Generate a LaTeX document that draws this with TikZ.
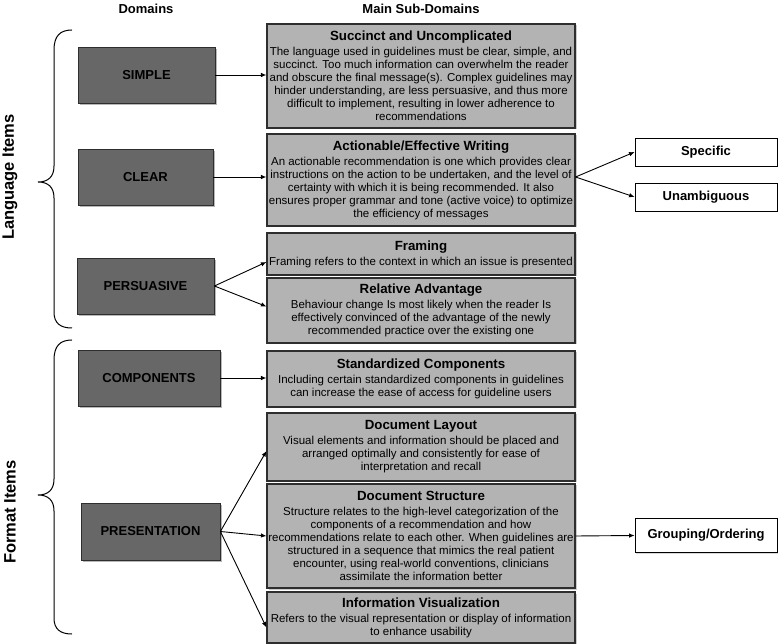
\documentclass[tikz,border=0pt]{standalone}
\usepackage{fontspec}
\setmainfont{Liberation Sans}
\usetikzlibrary{arrows.meta,shadows,calc}
\definecolor{darkfill}{HTML}{676767}
\definecolor{lightfill}{HTML}{B3B3B3}
\definecolor{edgec}{HTML}{2E2E2E}
\newcommand{\boxttl}[1]{{\fontsize{13.3}{15}\selectfont\bfseries #1}}
\begin{document}
\begin{tikzpicture}[x=1pt,y=-1pt,
  dom/.style={draw=edgec, line width=0.8pt, fill=darkfill, inner sep=0pt,
    font=\fontsize{13}{15}\selectfont\bfseries,
    general shadow={fill=black!28, shadow xshift=2pt, shadow yshift=-2pt}},
  sub/.style={draw=edgec, line width=1.1pt, fill=lightfill, minimum width=308pt,
    align=center, inner sep=1pt, font=\fontsize{11.5}{13}\selectfont,
    general shadow={fill=black!20, shadow xshift=1.5pt, shadow yshift=-1.5pt}},
  leaf/.style={draw=black, line width=0.8pt, fill=white, minimum width=142pt,
    font=\fontsize{13}{15}\selectfont\bfseries,
    general shadow={fill=black!15, shadow xshift=1.2pt, shadow yshift=-1.2pt}},
  arr/.style={line width=0.9pt, -{Latex[length=5.5pt,width=4.5pt]}},
  bracel/.style={line width=1pt},
  side/.style={rotate=90, font=\fontsize{16.5}{19}\selectfont\bfseries},
  head/.style={font=\fontsize{13}{15}\selectfont\bfseries}
]
\useasboundingbox (0,0) rectangle (780,644);

% headers
\node[head] (hdom) at (146,9) {Domains};
\node[head] (hsub) at (421,9) {Main Sub-Domains};

% side labels and braces
\node[side] (lang) at (10,177) {Language Items};
\node[side] (fmt) at (10,512) {Format Items};
\draw[bracel] (72,30) .. controls (60,30) and (54,36) .. (54,50) -- (54,166)
  .. controls (54,177) and (48,182) .. (38,182)
  .. controls (48,182) and (54,187) .. (54,198) -- (54,312)
  .. controls (54,323) and (60,328) .. (72,328);
\draw[bracel] (72,340) .. controls (60,340) and (54,346) .. (54,360) -- (54,479)
  .. controls (54,490) and (48,495) .. (38,495)
  .. controls (48,495) and (54,500) .. (54,511) -- (54,618)
  .. controls (54,629) and (60,634) .. (72,634);

% domain boxes
\node[dom, minimum width=137pt, minimum height=56pt] (simple) at (146.5,75) {SIMPLE};
\node[dom, minimum width=135pt, minimum height=56pt] (clear) at (145.5,177) {CLEAR};
\node[dom, minimum width=137pt, minimum height=56pt] (pers) at (145.5,286) {PERSUASIVE};
\node[dom, minimum width=142pt, minimum height=56pt] (comp) at (149,378) {COMPONENTS};
\node[dom, minimum width=139pt, minimum height=57pt] (pres) at (150.5,531.5) {PRESENTATION};

% sub-domain boxes
\node[sub, minimum height=104pt] (succ) at (421,76) {\boxttl{Succinct and Uncomplicated}\\[2pt]
The language used in guidelines must be clear, simple, and\\
succinct. Too much information can overwhelm the reader\\
and obscure the final message(s). Complex guidelines may\\
hinder understanding, are less persuasive, and thus more\\
difficult to implement, resulting in lower adherence to\\
recommendations};
\node[sub, minimum height=92pt] (act) at (421,180) {\boxttl{Actionable/Effective Writing}\\[2pt]
An actionable recommendation is one which provides clear\\
instructions on the action to be undertaken, and the level of\\
certainty with which it is being recommended. It also\\
ensures proper grammar and tone (active voice) to optimize\\
the efficiency of messages};
\node[sub, minimum height=42pt] (fram) at (421,254) {\boxttl{Framing}\\[2pt]
Framing refers to the context in which an issue is presented};
\node[sub, minimum height=65pt] (rel) at (421,310.5) {\boxttl{Relative Advantage}\\[2pt]
Behaviour change Is most likely when the reader Is\\
effectively convinced of the advantage of the newly\\
recommended practice over the existing one};
\node[sub, minimum height=56pt] (std) at (421,379) {\boxttl{Standardized Components}\\[2pt]
Including certain standardized components in guidelines\\
can increase the ease of access for guideline users};
\node[sub, minimum height=68pt] (lay) at (421,447) {\boxttl{Document Layout}\\[2pt]
Visual elements and information should be placed and\\
arranged optimally and consistently for ease of\\
interpretation and recall};
\node[sub, minimum height=104pt] (str) at (421,536) {\boxttl{Document Structure}\\[2pt]
Structure relates to the high-level categorization of the\\
components of a recommendation and how\\
recommendations relate to each other. When guidelines are\\
structured in a sequence that mimics the real patient\\
encounter, using real-world conventions, clinicians\\
assimilate the information better};
\node[sub, minimum height=51pt] (vis) at (421,617.5) {\boxttl{Information Visualization}\\[2pt]
Refers to the visual representation or display of information\\
to enhance usability};

% leaf boxes
\node[leaf, minimum height=28pt] (spec) at (706,152) {Specific};
\node[leaf, minimum height=28pt] (unamb) at (706,197) {Unambiguous};
\node[leaf, minimum height=34pt] (grp) at (706,535.5) {Grouping/Ordering};

% connectors
\coordinate (actout) at ($(act.east)+(0,-3)$);
\draw[arr] (simple.east) -- (simple.east -| succ.west);
\draw[arr] (clear.east) -- (clear.east -| act.west);
\draw[arr] (pers.east) -- ($(fram.west)+(0,8)$);
\draw[arr] (pers.east) -- ($(rel.west)+(0,-4)$);
\draw[arr] (comp.east) -- (comp.east -| std.west);
\draw[arr] (pres.east) -- ($(lay.west)+(0,4)$);
\draw[arr] (pres.east) -- (str.west);
\draw[arr] (pres.east) -- ($(vis.west)+(0,10)$);
\draw[arr] (actout) -- (spec.west);
\draw[arr] (actout) -- (unamb.west);
\draw[arr] (str.east) -- (grp.west);
\end{tikzpicture}
\end{document}
